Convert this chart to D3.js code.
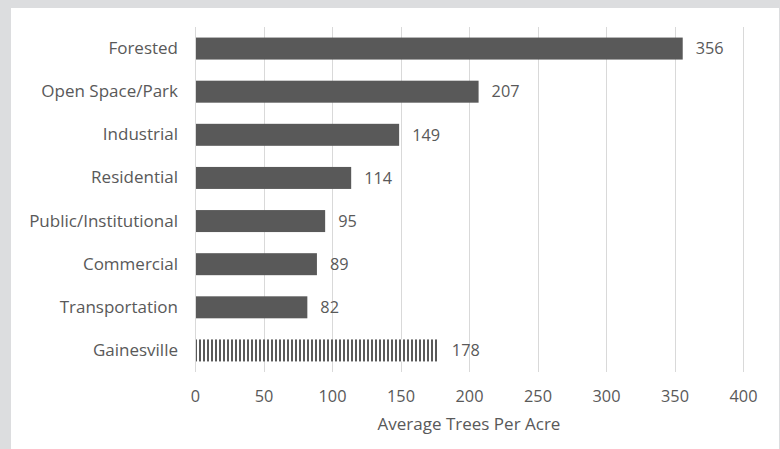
<!DOCTYPE html>
<html>
<head>
<meta charset="utf-8">
<script src="https://cdn.jsdelivr.net/npm/d3@7"></script>
<style>
  html, body { margin: 0; padding: 0; background: #dcdddf; }
  svg { display: block; }
  text { font-family: "Open Sans", sans-serif; fill: #595959; }
</style>
</head>
<body>
<script>
// Land-use categories, top to bottom
const categories = ["Forested", "Open Space/Park", "Industrial", "Residential",
  "Public/Institutional", "Commercial", "Transportation", "Gainesville"];
// Average trees per acre for each category
const treesPerAcre = [356, 207, 149, 114, 95, 89, 82, 178];
// City-wide average drawn with a striped fill
const highlighted = ["Gainesville"];
const xTicks = [0, 50, 100, 150, 200, 250, 300, 350, 400];
const xTitle = "Average Trees Per Acre";

const W = 780, H = 449;
const margin = { top: 27, right: 37, bottom: 77, left: 195 };
const innerW = W - margin.left - margin.right;
const innerH = H - margin.top - margin.bottom;
const FONT = "'Open Sans', sans-serif";
const FS_TEXT = 17;   // words
const FS_NUM = 16.3;  // numerals

const svg = d3.select("body").append("svg").attr("width", W).attr("height", H);

// white chart panel on the grey page
svg.append("rect").attr("x", 11).attr("y", 8).attr("width", W - 12).attr("height", H - 8)
  .attr("fill", "#ffffff");

const defs = svg.append("defs");
const pat = defs.append("pattern").attr("id", "stripes")
  .attr("patternUnits", "userSpaceOnUse").attr("width", 4).attr("height", 4)
  .attr("x", margin.left + 1);
pat.append("rect").attr("width", 4).attr("height", 4).attr("fill", "#ffffff");
pat.append("rect").attr("width", 2).attr("height", 4).attr("fill", "#595959");

const x = d3.scaleLinear().domain([0, 400]).range([0, innerW]);
const y = d3.scaleBand().domain(categories).range([0, innerH]).paddingInner(0.49).paddingOuter(0.245);

const g = svg.append("g").attr("transform", `translate(${margin.left},${margin.top})`);

// vertical gridlines
g.append("g").selectAll("line").data(xTicks).join("line")
  .attr("x1", d => Math.round(x(d)) + 0.5).attr("x2", d => Math.round(x(d)) + 0.5)
  .attr("y1", 0).attr("y2", innerH)
  .attr("stroke", "#d9d9d9").attr("stroke-width", 1);

const data = categories.map((c, i) => ({ c, v: treesPerAcre[i] }));

g.append("g").selectAll("rect").data(data).join("rect")
  .attr("x", x(0) + 1)
  .attr("y", d => y(d.c))
  .attr("width", d => x(d.v) - x(0) - 1)
  .attr("height", y.bandwidth())
  .attr("fill", d => highlighted.includes(d.c) ? "url(#stripes)" : "#595959");

// value labels
g.append("g").selectAll("text").data(data).join("text")
  .attr("x", d => x(d.v) + 13)
  .attr("y", d => y(d.c) + y.bandwidth() / 2)
  .attr("dy", "0.35em")
  .attr("font-size", FS_NUM)
  .text(d => d.v);

// category axis
const yAxis = g.append("g").call(d3.axisLeft(y).tickSize(0).tickPadding(17));
yAxis.select(".domain").remove();
yAxis.selectAll("text").attr("font-size", FS_TEXT).style("font-family", FONT).attr("fill", "#595959");

// value axis
const xAxis = g.append("g").attr("transform", `translate(0,${innerH})`)
  .call(d3.axisBottom(x).tickValues(xTicks).tickSize(0).tickPadding(18).tickFormat(d3.format("d")));
xAxis.select(".domain").remove();
xAxis.selectAll("text").attr("font-size", FS_NUM).style("font-family", FONT).attr("fill", "#595959");

g.append("text")
  .attr("x", innerW / 2).attr("y", innerH + 58)
  .attr("text-anchor", "middle").attr("font-size", FS_TEXT)
  .text(xTitle);
</script>
</body>
</html>
